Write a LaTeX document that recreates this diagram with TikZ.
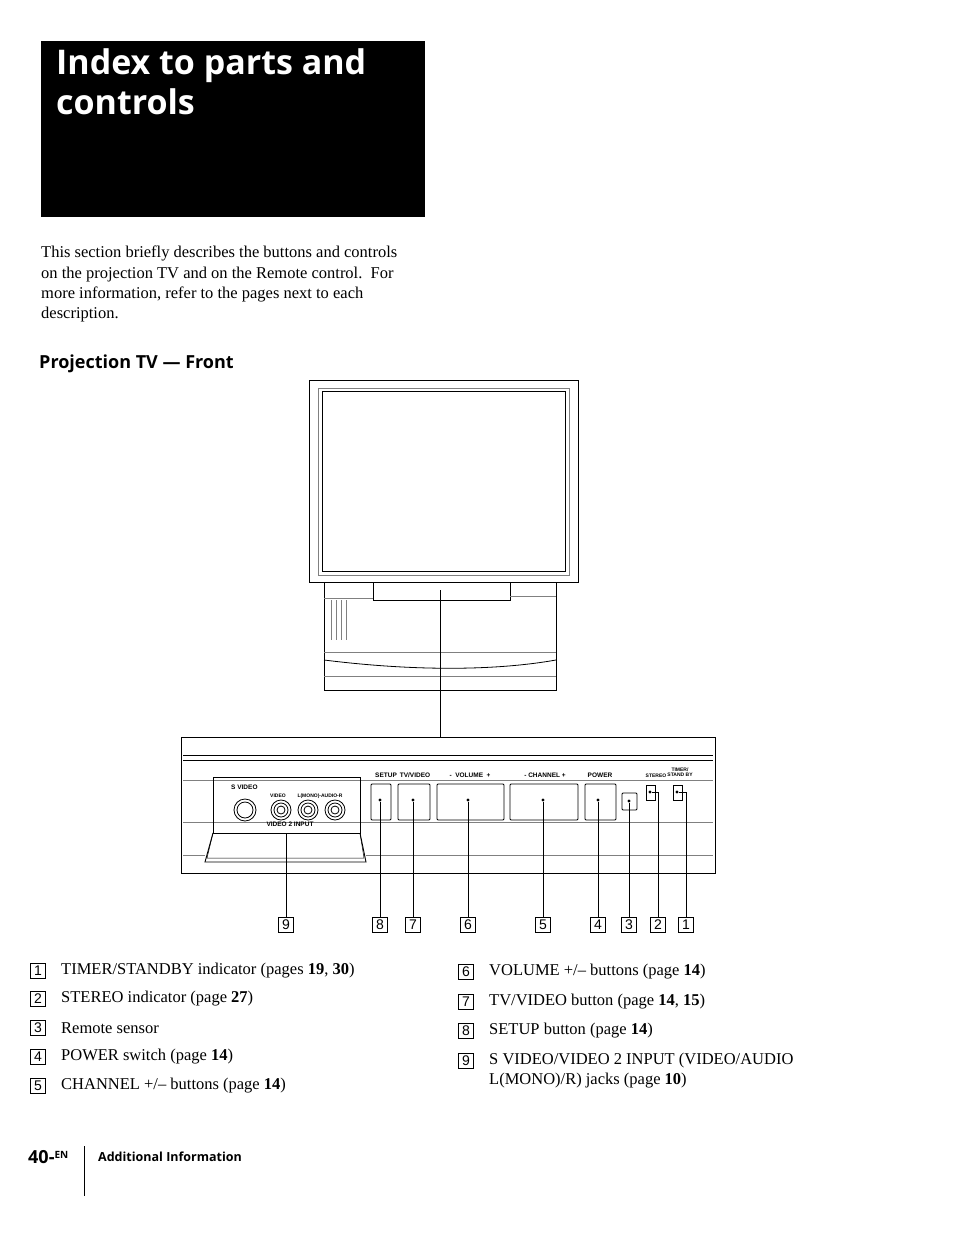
\documentclass[tikz,border=0pt]{standalone}
\usepackage{fontspec}
\setmainfont{Liberation Serif}
\newfontfamily\hd{Open Sans}
\newfontfamily\ar{Liberation Sans}
\begin{document}
\begin{tikzpicture}[x=1pt,y=-1pt,
 nb/.style={draw,line width=0.8pt,inner sep=0pt,minimum size=15pt,font=\ar\fontsize{14}{14}\selectfont},
 lbl/.style={font=\ar\bfseries\fontsize{6.5}{7}\selectfont,inner sep=0pt},
 leg/.style={anchor=west,font=\fontsize{16.5}{20}\selectfont,inner sep=0pt},
 btn/.style={draw,line width=0.9pt,rounded corners=1pt},
 dot/.style={circle,fill,inner sep=1.2pt}]
\useasboundingbox (0,0) rectangle (954,1233);
% title
\fill (41,41) rectangle (425,217);
\node[anchor=north west,text=white,font=\hd\bfseries\fontsize{34}{40}\selectfont,align=left,inner sep=0pt] (title) at (56,48) {Index to parts and\\controls};
\node[anchor=north west,align=left,font=\fontsize{16.5}{20.2}\selectfont,inner sep=0pt] (intro) at (41,246) {This section briefly describes the buttons and controls\\on the projection TV and on the Remote control.\ \ For\\more information, refer to the pages next to each\\description.};
\node[anchor=west,font=\hd\bfseries\fontsize{18}{20}\selectfont,inner sep=0pt] (sub) at (39,364) {Projection TV — Front};
% TV
\draw[line width=1pt] (309,380) rectangle (578,582);
\draw[line width=0.6pt] (322,391) rectangle (565,571);
\draw[line width=0.4pt,gray] (318,388) rectangle (569,575);
\draw[line width=0.9pt] (324,582) -- (324,690) -- (556,690) -- (556,582);
\draw[line width=0.6pt] (373,582) -- (373,600) -- (510,600) -- (510,582);
\draw[line width=0.4pt,gray] (324,598) -- (373,598) (510,596) -- (556,596);
\draw[line width=0.8pt] (324,660) .. controls (420,672) and (500,670) .. (556,660);
\draw[line width=0.4pt,gray] (324,676) -- (556,676) (324,652) -- (556,652);
\draw[line width=0.4pt,gray] (331,600) -- (331,640) (336,600) -- (336,640) (341,600)--(341,640) (346,600)--(346,640);
\coordinate (tvc) at (440,590);
\coordinate (pt) at (440,737);
\draw[line width=0.7pt] (tvc) -- (pt);
% panel
\draw[line width=1pt] (181,737) rectangle (715,873);
\draw[line width=0.8pt] (183,755) -- (713,755) (183,760) -- (713,760);
\draw[line width=0.4pt,gray] (183,780) -- (713,780) (183,822) -- (713,822) (183,855) -- (205,855) (366,855) -- (713,855);
\draw[line width=0.9pt] (213,777) rectangle (360,833);
\draw[line width=0.9pt] (213,833) -- (205,862) -- (366,862) -- (360,833);
\draw[line width=0.5pt] (213,833) -- (207,858) -- (364,858) -- (360,833);
\node[lbl,anchor=west] (sv) at (231,787) {S VIDEO};
\node[lbl,font=\ar\bfseries\fontsize{5}{5}\selectfont] (vl) at (278,796) {VIDEO};
\node[lbl,font=\ar\bfseries\fontsize{5}{5}\selectfont] (al) at (320,796) {L(MONO)-AUDIO-R};
\node[lbl] (v2) at (290,824) {VIDEO 2 INPUT};
\draw[line width=0.8pt] (245,810) circle (11) (245,810) circle (8);
\foreach \x in {281,308,335}{\draw[line width=0.8pt] (\x,810) circle (10) (\x,810) circle (7) (\x,810) circle (4);}
\node[lbl] at (386,775) {SETUP};
\node[lbl] at (415,775) {TV/VIDEO};
\node[lbl] at (470,775) {-\ \ VOLUME\ \ +};
\node[lbl] at (545,775) {- CHANNEL +};
\node[lbl] at (600,775) {POWER};
\node[lbl,font=\ar\bfseries\fontsize{5}{5}\selectfont] at (656,776) {STEREO};
\node[lbl,font=\ar\bfseries\fontsize{5}{5}\selectfont,align=center] at (680,772) {TIMER/\\STAND BY};
\draw[btn] (371,784) rectangle (391,820);
\draw[btn] (398,784) rectangle (430,820);
\draw[btn] (437,784) rectangle (504,820);
\draw[btn] (510,784) rectangle (578,820);
\draw[btn] (585,784) rectangle (616,820);
\draw[btn] (622,793) rectangle (637,810);
\draw[line width=0.8pt] (646,785) rectangle (655,800);
\draw[line width=0.8pt] (673,785) rectangle (682,800);
% number boxes
\foreach \n/\x in {9/286,8/380,7/413,6/468,5/543,4/598,3/629,2/658,1/686}{\node[nb] (n\n) at (\x,925) {\n};}
\node[dot] (d8) at (380,800) {}; \draw (d8) -- (n8);
\node[dot] (d7) at (413,800) {}; \draw (d7) -- (n7);
\node[dot] (d6) at (468,800) {}; \draw (d6) -- (n6);
\node[dot] (d5) at (543,800) {}; \draw (d5) -- (n5);
\node[dot] (d4) at (598,800) {}; \draw (d4) -- (n4);
\node[dot] (d3) at (629,801) {}; \draw (d3) -- (n3);
\node[dot] (d2) at (650,792) {}; \draw (d2) -| (n2);
\node[dot] (d1) at (677,792) {}; \draw (d1) -| (n1);
\coordinate (j9) at (286,833); \draw (j9) -- (n9);
% legend
\foreach \n/\y/\t in {1/971/{TIMER/STANDBY indicator (pages \textbf{19}, \textbf{30})},2/999/{STEREO indicator (page \textbf{27})},3/1028/{Remote sensor},4/1057/{POWER switch (page \textbf{14})},5/1086/{CHANNEL +/– buttons (page \textbf{14})}}{
 \node[nb] (l\n) at (38,\y) {\n}; \node[leg] at (61,\y) {\t};}
\foreach \n/\y/\t in {6/972/{VOLUME +/– buttons (page \textbf{14})},7/1002/{TV/VIDEO button (page \textbf{14}, \textbf{15})},8/1031/{SETUP button (page \textbf{14})},9/1061/{S VIDEO/VIDEO 2 INPUT (VIDEO/AUDIO}}{
 \node[nb] (r\n) at (466,\y) {\n}; \node[leg] at (489,\y) {\t};}
\node[leg] at (489,1081) {L(MONO)/R) jacks (page \textbf{10})};
% footer
\node[anchor=west,inner sep=0pt,font=\hd\bfseries\fontsize{18}{18}\selectfont] (pg) at (28,1157) {40-\raisebox{5pt}{\fontsize{10}{10}\selectfont EN}};
\draw[line width=0.8pt] (84,1146) -- (84,1196);
\node[anchor=west,inner sep=0pt,font=\hd\bfseries\fontsize{12.5}{12}\selectfont] (ai) at (98,1157) {Additional Information};
\end{tikzpicture}
\end{document}
